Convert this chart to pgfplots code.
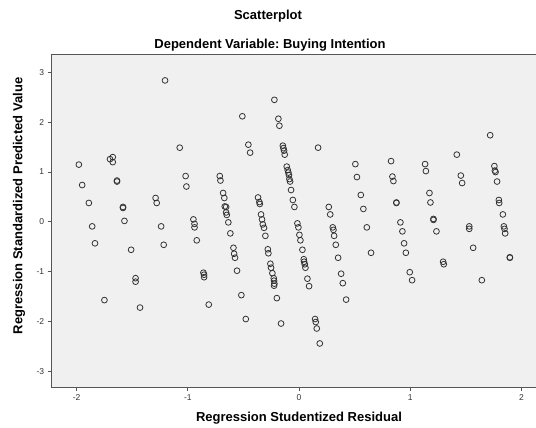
\documentclass[border=0pt]{standalone}
\usepackage{pgfplots}
\pgfplotsset{compat=1.18}
\usepackage{fontspec}
\setmainfont{Liberation Sans}
\frenchspacing
\definecolor{bgc}{HTML}{F0F0F0}
\definecolor{axc}{HTML}{555555}
\definecolor{mkc}{HTML}{333333}
\begin{document}
\begin{tikzpicture}
\begin{axis}[
  at={(51.7pt,40.7pt)}, anchor=south west,
  scale only axis, width=484.3pt, height=332.3pt,
  xmin=-2.224, xmax=2.13, ymin=-3.32, ymax=3.35,
  axis background/.style={fill=bgc},
  xtick={-2,-1,0,1,2}, ytick={-3,-2,-1,0,1,2,3},
  xtick pos=bottom, ytick pos=left,
  minor tick num=0,
  tick align=outside, major tick length=4pt,
  tick style={color=axc, line width=0.8pt},
  axis line style={color=axc, line width=1pt},
  ticklabel style={font=\fontsize{8.5}{10}\selectfont, color=black!80},
  /pgf/number format/assume math mode=true,
  clip=false,
]
\addplot[only marks, mark=o, mark size=2.9pt, color=mkc, mark options={line width=0.8pt}] coordinates {
(-1.98,1.15) (-1.95,0.74) (-1.89,0.38) (-1.86,-0.09) (-1.835,-0.43) (-1.75,-1.57)
(-1.70,1.26) (-1.675,1.30) (-1.675,1.20) (-1.637,0.83) (-1.637,0.81) (-1.583,0.30)
(-1.583,0.28) (-1.57,0.02) (-1.51,-0.56) (-1.47,-1.13) (-1.47,-1.20) (-1.43,-1.72)
(-1.29,0.48) (-1.28,0.38) (-1.24,-0.09) (-1.217,-0.46) (-1.205,2.84) (-1.073,1.49)
(-1.02,0.92) (-1.013,0.71) (-0.95,0.05) (-0.94,-0.04) (-0.94,-0.11) (-0.92,-0.37)
(-0.86,-1.02) (-0.854,-1.06) (-0.854,-1.11) (-0.812,-1.66) (-0.713,0.92) (-0.707,0.83)
(-0.683,0.58) (-0.672,0.48) (-0.668,0.31) (-0.656,0.30) (-0.656,0.19) (-0.65,0.14)
(-0.636,-0.01) (-0.618,-0.23) (-0.59,-0.52) (-0.584,-0.64) (-0.576,-0.72) (-0.558,-0.98)
(-0.519,-1.47) (-0.51,2.12) (-0.479,-1.95) (-0.456,1.55) (-0.44,1.39)
(-0.369,0.49) (-0.357,0.40) (-0.353,0.36) (-0.342,0.15) (-0.333,0.05) (-0.326,-0.05)
(-0.315,-0.12) (-0.303,-0.28) (-0.281,-0.55) (-0.276,-0.63) (-0.258,-0.84) (-0.252,-0.92)
(-0.24,-1.03) (-0.228,-1.13) (-0.225,-1.18) (-0.222,-1.24) (-0.225,-1.28) (-0.222,2.45)
(-0.2,-1.53) (-0.186,2.07) (-0.177,1.93) (-0.162,-2.04) (-0.146,1.53) (-0.141,1.48)
(-0.135,1.43) (-0.129,1.35) (-0.111,1.11) (-0.102,1.04) (-0.096,0.99) (-0.091,0.94)
(-0.087,0.86) (-0.081,0.81) (-0.072,0.64) (-0.056,0.44) (-0.042,0.30) (-0.015,-0.03)
(-0.006,-0.11) (0.003,-0.26) (0.012,-0.37) (0.03,-0.56) (0.042,-0.75) (0.045,-0.80)
(0.051,-0.85) (0.057,-0.92) (0.075,-1.14) (0.09,-1.29) (0.144,-1.95) (0.15,-2.01)
(0.159,-2.14) (0.171,1.49) (0.186,-2.44) (0.267,0.30) (0.28,0.15) (0.303,-0.11)
(0.309,-0.16) (0.315,-0.28) (0.33,-0.46) (0.351,-0.72) (0.378,-1.04) (0.393,-1.23)
(0.423,-1.56) (0.506,1.16) (0.52,0.90) (0.555,0.54) (0.578,0.26) (0.609,-0.11)
(0.647,-0.62) (0.827,1.22) (0.839,0.91) (0.848,0.82) (0.875,0.39) (0.875,0.38)
(0.911,-0.01) (0.929,-0.19) (0.944,-0.43) (0.96,-0.62) (0.995,-1.01) (1.016,-1.17)
(1.133,1.16) (1.14,1.02) (1.172,0.58) (1.181,0.39) (1.208,0.06) (1.208,0.04)
(1.235,-0.19) (1.295,-0.80) (1.301,-0.85) (1.418,1.35) (1.454,0.93) (1.466,0.78)
(1.53,-0.09) (1.53,-0.14) (1.565,-0.52) (1.643,-1.17) (1.718,1.74) (1.756,1.12)
(1.76,1.03) (1.766,1.00) (1.78,0.81) (1.796,0.44) (1.799,0.38) (1.832,0.15)
(1.841,-0.09) (1.847,-0.14) (1.853,-0.23) (1.895,-0.71) (1.895,-0.72)
};
\end{axis}
\node[font=\bfseries\fontsize{13}{15}\selectfont] at (268pt,412pt) {Scatterplot};
\node[font=\bfseries\fontsize{13}{15}\selectfont] at (270pt,383pt) {Dependent Variable: Buying Intention};
\node[font=\bfseries\fontsize{13}{15}\selectfont] at (299pt,10pt) {Regression Studentized Residual};
\node[font=\bfseries\fontsize{13}{15}\selectfont, rotate=90] at (19pt,222pt) {Regression Standardized Predicted Value};
\pgfresetboundingbox
\path[use as bounding box] (0,0) rectangle (536pt,428pt);
\end{tikzpicture}
\end{document}
